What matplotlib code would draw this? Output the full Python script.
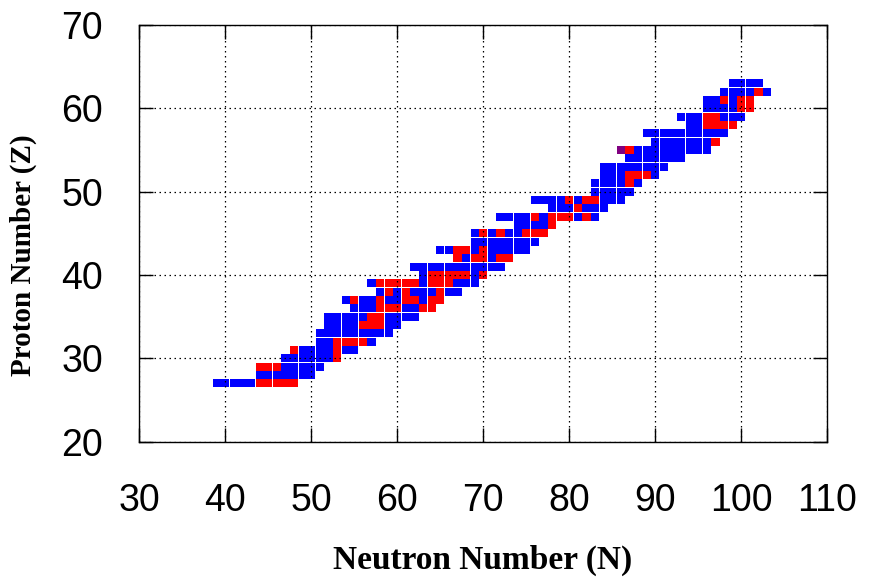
import numpy as np
import matplotlib
matplotlib.use('Agg')
import matplotlib.pyplot as plt

# one row per proton number: first neutron number of the row and one code per cell
# b = blue, r = red, p = purple
proton_z = list(range(27, 64))
first_n = [39, 44, 44, 47, 48, 51, 51, 52, 52, 55, 54, 58, 57, 63, 62, 67, 65, 69, 69,
           74, 72, 78, 76, 83, 83, 84, 84, 87, 86, 90, 89, 94, 93, 96, 96, 98, 99]
cells = [
    "bbbbbrrrrr",     # 27
    "bbbbbbb",        # 28
    "rrrbbbbb",       # 29
    "bbbbbbr",        # 30
    "rbbbbrbb",       # 31
    "bbrrrrb",        # 32
    "bbbbbbbbb",      # 33
    "bbbbrrrbb",      # 34
    "bbbbbrrbbbb",    # 35
    "bbbrrrbbrr",     # 36
    "brbbrbbrrbrr",   # 37
    "brbrbbbrbb",     # 38
    "brrrrrbrrrbbb",  # 39
    "brrrrrbr",       # 40
    "bbbbbbbbbbb",    # 41
    "rbrrbrr",        # 42
    "bbrrbrbbbbb",    # 43
    "bbbbbbbb",       # 44
    "brbrbbrrr",      # 45
    "bbbbr",          # 46
    "bbbbrbrrrbrb",   # 47
    "bbbrbbb",        # 48
    "bbbbrbrrbbb",    # 49
    "bbbbb",          # 50
    "bbbbrb",         # 51
    "bbbrrrb",        # 52
    "bbbbbbbb",       # 53
    "bbbbbbb",        # 54
    "prbbbbbbbbb",    # 55
    "bbbbbbbr",       # 56
    "bbbbbbbbbb",     # 57
    "bbrrrr",         # 58
    "bbbrrbbb",       # 59
    "bbbbrr",         # 60
    "bbrbrr",         # 61
    "bbbbrb",         # 62
    "bbbb",           # 63
]
colors = {'b': '#0000ff', 'r': '#ff0000', 'p': '#800080'}

nn, zz, cc = [], [], []
for z, n0, row in zip(proton_z, first_n, cells):
    for i, code in enumerate(row):
        nn.append(n0 + i)
        zz.append(z)
        cc.append(colors[code])
nn = np.array(nn)
zz = np.array(zz)

fig = plt.figure(figsize=(8.72, 5.8), dpi=100)
ax = fig.add_axes([0.1597, 0.2386, 0.789, 0.7181])

ax.bar(nn, 0.95, bottom=zz - 0.475, width=0.95, color=cc, linewidth=0, zorder=1)

ax.set_xlim(30, 110)
ax.set_ylim(20, 70)
ax.set_xticks(range(30, 111, 10))
ax.set_yticks(range(20, 71, 10))
ax.set_axisbelow(False)
ax.grid(True, color='black', linestyle=(0, (1.2, 2.8)), linewidth=0.9, zorder=3)

for s in ax.spines.values():
    s.set_linewidth(1.0)
    s.set_zorder(4)

ax.tick_params(direction='in', length=10, width=1, top=True, right=True,
               labelsize=27, labelfontfamily='Liberation Sans')
ax.tick_params(axis='x', pad=30)
ax.tick_params(axis='y', pad=26)

fig.text(0.554, 0.033, 'Neutron Number (N)', ha='center', va='center',
         fontsize=24, fontweight='bold', family='Liberation Serif')
fig.text(0.027, 0.56, 'Proton Number (Z)', ha='center', va='center', rotation=90,
         fontsize=21, fontweight='bold', family='Liberation Serif')

plt.savefig('out.png', dpi=100)
